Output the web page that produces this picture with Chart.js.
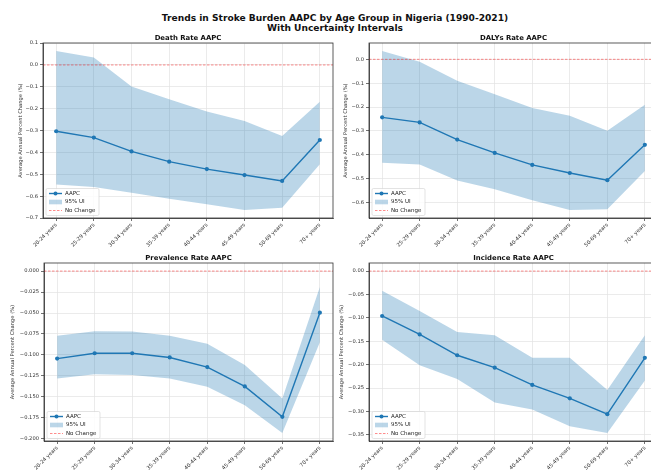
<!DOCTYPE html>
<html>
<head>
<meta charset="utf-8">
<script src="https://cdn.jsdelivr.net/npm/chart.js@4.4.1/dist/chart.umd.min.js"></script>
<style>
  html, body { margin: 0; padding: 0; background: #fff; overflow: hidden; width: 651px; height: 473px; }
  #title { position: absolute; left: 0; top: 13px; width: 670px; text-align: center;
           font: bold 9.1px "DejaVu Sans"; line-height: 10px; color: #111; }
  .panel { position: absolute; }
</style>
</head>
<body>
<div id="title">Trends in Stroke Burden AAPC by Age Group in Nigeria (1990-2021)<br>With Uncertainty Intervals</div>
<div class="panel" style="left:0;top:30px;width:340px;height:218px"><canvas id="c0"></canvas></div>
<div class="panel" style="left:326px;top:30px;width:340px;height:218px"><canvas id="c1"></canvas></div>
<div class="panel" style="left:0;top:250px;width:340px;height:221px"><canvas id="c2"></canvas></div>
<div class="panel" style="left:326px;top:250px;width:340px;height:221px"><canvas id="c3"></canvas></div>
<script>
const ageGroups = ['20-24 years', '25-29 years', '30-34 years', '35-39 years', '40-44 years', '45-49 years', '50-69 years', '70+ years'];

// Death rate AAPC
const deathAapc  = [-0.303, -0.332, -0.395, -0.442, -0.476, -0.503, -0.530, -0.343];
const deathUpper = [0.064, 0.034, -0.099, -0.157, -0.213, -0.256, -0.325, -0.168];
const deathLower = [-0.546, -0.558, -0.584, -0.611, -0.637, -0.663, -0.652, -0.454];
const deathTicks = [-0.7, -0.6, -0.5, -0.4, -0.3, -0.2, -0.1, 0.0, 0.1];

// DALYs rate AAPC
const dalysAapc  = [-0.243, -0.264, -0.336, -0.392, -0.442, -0.476, -0.506, -0.358];
const dalysUpper = [0.035, -0.010, -0.090, -0.146, -0.204, -0.236, -0.299, -0.190];
const dalysLower = [-0.433, -0.440, -0.507, -0.544, -0.590, -0.631, -0.628, -0.468];
const dalysTicks = [-0.6, -0.5, -0.4, -0.3, -0.2, -0.1, 0.0];

// Prevalence rate AAPC
const prevAapc  = [-0.1044, -0.0980, -0.0980, -0.1030, -0.1145, -0.1375, -0.1738, -0.0496];
const prevUpper = [-0.0770, -0.0718, -0.0720, -0.0770, -0.0867, -0.1120, -0.1520, -0.0190];
const prevLower = [-0.1280, -0.1230, -0.1240, -0.1280, -0.1380, -0.1600, -0.1930, -0.0850];
const prevTicks = [-0.2, -0.175, -0.15, -0.125, -0.1, -0.075, -0.05, -0.025, 0.0];

// Incidence rate AAPC
const incAapc  = [-0.0960, -0.1355, -0.1800, -0.2065, -0.2435, -0.2720, -0.3060, -0.1855];
const incUpper = [-0.0420, -0.0855, -0.1300, -0.1370, -0.1855, -0.1855, -0.2540, -0.1370];
const incLower = [-0.1470, -0.2015, -0.2305, -0.2810, -0.2957, -0.3320, -0.3460, -0.2340];
const incTicks = [-0.35, -0.3, -0.25, -0.2, -0.15, -0.1, -0.05, 0.0];

const C0 = '#1f77b4';
const BAND = 'rgba(31,119,180,0.3)';
const FONT = '"DejaVu Sans", sans-serif';

// subplot title, frame, zero line and the in-plot legend
const panelDecor = {
  id: 'panelDecor',
  afterDatasetsDraw(chart) {
    const { ctx, chartArea: a } = chart;
    const y0 = chart.scales.y.getPixelForValue(0);
    ctx.save();
    ctx.strokeStyle = 'rgba(255,0,0,0.5)';
    ctx.lineWidth = 0.9;
    ctx.setLineDash([2.5, 1.5]);
    ctx.beginPath();
    ctx.moveTo(a.left, y0);
    ctx.lineTo(a.right, y0);
    ctx.stroke();
    ctx.restore();
  },
  afterDraw(chart, args, o) {
    const { ctx, chartArea: a } = chart;
    ctx.save();
    // frame
    ctx.strokeStyle = '#333';
    ctx.lineWidth = 0.8;
    ctx.strokeRect(a.left, a.top, a.right - a.left, a.bottom - a.top);
    // subplot title
    ctx.fillStyle = '#111';
    ctx.font = 'bold 6.9px ' + FONT;
    ctx.textAlign = 'center';
    ctx.textBaseline = 'alphabetic';
    ctx.fillText(o.title, (a.left + a.right) / 2, a.top - 3.5);
    // legend
    const bw = 53, bh = 27;
    const bx = a.left + 3, by = a.bottom - 2.5 - bh;
    ctx.fillStyle = 'rgba(255,255,255,0.85)';
    ctx.strokeStyle = '#d0d0d0';
    ctx.lineWidth = 0.6;
    ctx.beginPath();
    ctx.roundRect(bx, by, bw, bh, 1.5);
    ctx.fill();
    ctx.stroke();
    const sx = bx + 3, sw = 13;
    const rows = [by + 5, by + 13.5, by + 22];
    ctx.strokeStyle = C0;
    ctx.lineWidth = 1.4;
    ctx.beginPath();
    ctx.moveTo(sx, rows[0]);
    ctx.lineTo(sx + sw, rows[0]);
    ctx.stroke();
    ctx.fillStyle = C0;
    ctx.beginPath();
    ctx.arc(sx + sw / 2, rows[0], 2, 0, Math.PI * 2);
    ctx.fill();
    ctx.fillStyle = BAND;
    ctx.fillRect(sx, rows[1] - 2.3, sw, 4.6);
    ctx.strokeStyle = 'rgba(255,0,0,0.5)';
    ctx.lineWidth = 0.9;
    ctx.setLineDash([2.5, 1.5]);
    ctx.beginPath();
    ctx.moveTo(sx, rows[2]);
    ctx.lineTo(sx + sw, rows[2]);
    ctx.stroke();
    ctx.setLineDash([]);
    ctx.fillStyle = '#222';
    ctx.font = '5.5px ' + FONT;
    ctx.textAlign = 'left';
    ctx.textBaseline = 'middle';
    ['AAPC', '95% UI', 'No Change'].forEach((t, i) => ctx.fillText(t, sx + sw + 3, rows[i]));
    ctx.restore();
  }
};

const toPoints = arr => arr.map((v, i) => ({ x: i, y: v }));

function makeChart(id, title, aapc, upper, lower, ticks, decimals, yAxisWidth, titleOffset, padRight) {
  // matplotlib-like autoscale: 5% margin around band and zero line
  const lo = Math.min(0, ...lower), hi = Math.max(0, ...upper);
  const m = 0.05 * (hi - lo);
  return new Chart(document.getElementById(id), {
    type: 'line',
    data: {
      datasets: [
        { label: 'AAPC', data: toPoints(aapc), borderColor: C0, backgroundColor: C0, borderWidth: 1.4,
          pointRadius: 2.1, pointBorderWidth: 0, fill: false, order: 0 },
        { label: 'upper', data: toPoints(upper), borderWidth: 0, pointRadius: 0, backgroundColor: BAND,
          fill: '+1', order: 1 },
        { label: 'lower', data: toPoints(lower), borderWidth: 0, pointRadius: 0, fill: false, order: 2 }
      ]
    },
    options: {
      responsive: true,
      maintainAspectRatio: false,
      animation: false,
      layout: { padding: { top: 13, right: padRight, left: 0, bottom: 0 } },
      plugins: { legend: { display: false }, tooltip: { enabled: false }, panelDecor: { title } },
      scales: {
        x: {
          type: 'linear', min: -0.35, max: ageGroups.length - 1 + 0.35,
          afterBuildTicks: s => { s.ticks = ageGroups.map((_, i) => ({ value: i })); },
          afterFit: s => { s.height = 30; },
          ticks: { autoSkip: false, minRotation: 45, maxRotation: 45, padding: 1, color: '#333',
                   font: { family: FONT, size: 5.2 }, callback: v => ageGroups[v] },
          grid: { color: '#e2e2e2', lineWidth: 0.7, tickColor: '#333', tickLength: 3 },
          border: { color: '#333', width: 0.8 }
        },
        y: {
          min: lo - m, max: hi + m,
          afterBuildTicks: s => { s.ticks = ticks.map(v => ({ value: v })); },
          afterFit: s => { s.width = yAxisWidth; },
          ticks: { padding: 2, color: '#333', font: { family: FONT, size: 5.2 },
                   callback: v => v.toFixed(decimals).replace('-', '\u2212') },
          grid: { color: '#e2e2e2', lineWidth: 0.7, tickColor: '#333', tickLength: 3 },
          border: { color: '#333', width: 0.8 },
          title: { display: true, text: 'Average Annual Percent Change (%)', color: '#333',
                   font: { family: FONT, size: 5.2 }, padding: { top: titleOffset, bottom: 0 } }
        }
      }
    },
    plugins: [panelDecor]
  });
}

makeChart('c0', 'Death Rate AAPC', deathAapc, deathUpper, deathLower, deathTicks, 1, 43, 18, 7);
makeChart('c1', 'DALYs Rate AAPC', dalysAapc, dalysUpper, dalysLower, dalysTicks, 1, 43, 17, 8);
makeChart('c2', 'Prevalence Rate AAPC', prevAapc, prevUpper, prevLower, prevTicks, 3, 44, 10, 7);
makeChart('c3', 'Incidence Rate AAPC', incAapc, incUpper, incLower, incTicks, 2, 43, 13, 8);
</script>
</body>
</html>
